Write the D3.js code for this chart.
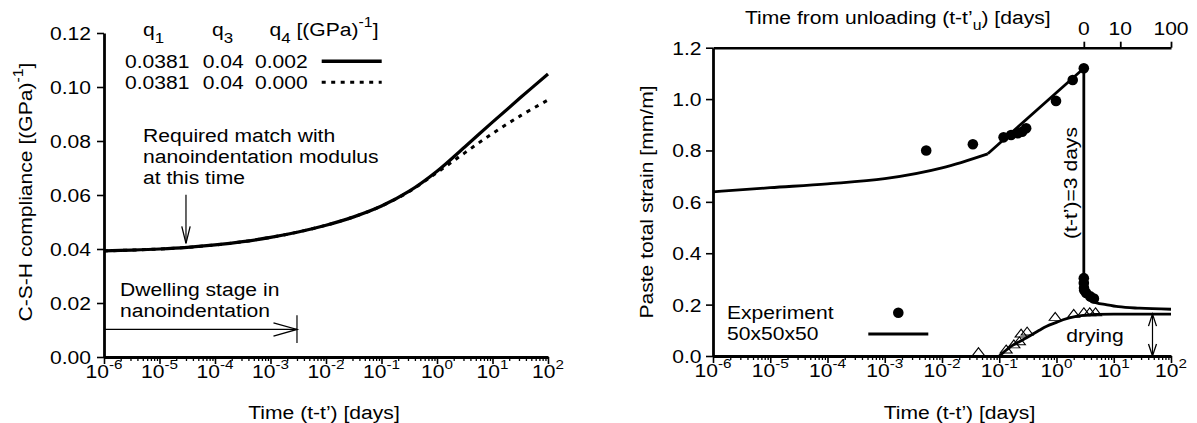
<!DOCTYPE html>
<html><head><meta charset="utf-8">
<script src="https://cdn.jsdelivr.net/npm/d3@7"></script>
<style>
html,body{margin:0;padding:0;background:#fff;}
svg{display:block;font-family:"Liberation Sans",Arial,Helvetica,sans-serif;}
</style></head><body>
<svg id="c" width="1197" height="423"></svg>
<script>
// ---------- data ----------
const decadeExps = [-6, -5, -4, -3, -2, -1, 0, 1, 2];
const complianceTicks = [0, 0.02, 0.04, 0.06, 0.08, 0.10, 0.12];
const strainTicks = [0, 0.2, 0.4, 0.6, 0.8, 1.0, 1.2];
const unloadTicks = [0, 10, 100];
const unloadAge = 3; // (t-t') at unloading, days

// C-S-H compliance vs load duration, every half decade from 1e-6 to 1e2 days
const complianceTime = [1e-6, 3.16e-6, 1e-5, 3.16e-5, 1e-4, 3.16e-4, 1e-3, 3.16e-3, 1e-2, 3.16e-2,
                        0.1, 0.316, 1, 3.16, 10, 31.6, 100];
const complianceQ4 = [0.0393, 0.0396, 0.0400, 0.0406, 0.0415, 0.0427, 0.0443, 0.0463, 0.0488, 0.0519,
                      0.0559, 0.0614, 0.0688, 0.0778, 0.0870, 0.0960, 0.1048];
const complianceNoQ4 = [0.0393, 0.0396, 0.0400, 0.0406, 0.0415, 0.0427, 0.0443, 0.0463, 0.0488, 0.0519,
                        0.0559, 0.0613, 0.0683, 0.0756, 0.0828, 0.0893, 0.0952];
const legendRows = [
  {q1: "0.0381", q3: "0.04", q4: "0.002", dash: null},
  {q1: "0.0381", q3: "0.04", q4: "0.000", dash: "4,5.5"}
];
const matchTime = 3e-5;      // nanoindentation match time, days
const dwellEnd = 3e-3;       // end of dwelling stage, days

// paste strain: model, loading phase
const creepTime = [1e-6, 1e-5, 1e-4, 1e-3, 1e-2, 0.063];
const creepStrain = [0.639, 0.655, 0.670, 0.690, 0.732, 0.787];
const loadTime = [0.063, 3];
const loadStrain = [0.787, 1.12];
// model after unloading
const recoveryTime = [3, 3.02, 3.1, 3.3, 3.75, 5, 7.3, 12, 28, 100];
const recoveryStrain = [0.30, 0.27, 0.25, 0.235, 0.218, 0.207, 0.200, 0.192, 0.186, 0.182];
// model, drying strain
const dryTime = [0.1, 0.12, 0.15, 0.2, 0.3, 0.5, 0.66, 1, 1.3, 2.2, 3, 5, 10, 100];
const dryStrain = [0.0, 0.015, 0.033, 0.050, 0.071, 0.100, 0.115, 0.131, 0.141, 0.154, 0.158, 0.162, 0.163, 0.163];
// experiment, total strain
const expTime = [0.0053, 0.0346, 0.119, 0.161, 0.211, 0.251, 0.295, 0.98, 1.92, 3.0,
                 3.0, 3.0, 3.02, 3.05, 3.3, 3.9, 4.5];
const expStrain = [0.80, 0.824, 0.851, 0.860, 0.867, 0.873, 0.886, 0.993, 1.074, 1.12,
                   0.303, 0.284, 0.265, 0.256, 0.245, 0.232, 0.224];
// experiment, drying strain
const dryExpTime = [0.0434, 0.132, 0.18, 0.225, 0.241, 0.307, 0.95, 2.0, 3.0, 3.8, 4.8];
const dryExpStrain = [0.008, 0.018, 0.038, 0.050, 0.080, 0.088, 0.145, 0.157, 0.163, 0.163, 0.163];
const dryingArrowTime = 47.5;

// ---------- helpers ----------
const FS = 19, SX = 1.11;
const svg = d3.select("#c");

function rich(g, x, y, parts, o = {}) {
  const size = o.size || FS;
  const t = g.append("text")
    .attr("transform", `translate(${x},${y})` + (o.rotate ? ` rotate(${o.rotate})` : "") + ` scale(${SX},1)`)
    .attr("text-anchor", o.anchor || "start")
    .attr("font-size", size)
    .attr("fill", "#000");
  let shift = 0;
  parts.forEach(p => {
    const [s, k, r] = typeof p === "string" ? [p, null, 1] : p;
    const target = k === "sup" ? -0.45 * size : k === "sub" ? 0.36 * size : 0;
    const ts = t.append("tspan").text(s).attr("dy", target - shift);
    if (k) ts.attr("font-size", size * (r || 0.72));
    shift = target;
  });
  return t;
}

function minorValues(lo, hi) {
  const v = [];
  for (let e = lo; e < hi; e++) for (let m = 2; m <= 9; m++) v.push(m * Math.pow(10, e));
  return v;
}
const majors = decadeExps.map(e => Math.pow(10, e));
const minors = minorValues(-6, 2);

function openHead(g, tip, dir, len, half) {
  // dir: unit vector pointing toward tip
  const [dx, dy] = dir, px = -dy, py = dx;
  const bx = tip[0] - dx * len, by = tip[1] - dy * len;
  g.append("path")
    .attr("d", `M${bx + px * half},${by + py * half}L${tip[0]},${tip[1]}L${bx - px * half},${by - py * half}`)
    .attr("fill", "none").attr("stroke", "#000").attr("stroke-width", 1.3);
}

function logXAxis(g, x, y0) {
  const major = g.append("g").attr("transform", `translate(0,${y0})`)
    .call(d3.axisBottom(x).tickValues(majors).tickSize(7).tickSizeOuter(0).tickFormat(""));
  major.select(".domain").attr("stroke-width", 2.8);
  major.selectAll(".tick line").attr("stroke-width", 1.6);
  const minor = g.append("g").attr("transform", `translate(0,${y0})`)
    .call(d3.axisBottom(x).tickValues(minors).tickSize(4).tickSizeOuter(0).tickFormat(""));
  minor.select(".domain").remove();
  minor.selectAll(".tick line").attr("stroke-width", 1.3);
  decadeExps.forEach(e => {
    rich(g, x(Math.pow(10, e)), y0 + 21, ["10", [String(e), "sup", 0.72]], {anchor: "middle"});
  });
}

// ---------- left panel: compliance ----------
const L = svg.append("g");
const xL = d3.scaleLog().domain([1e-6, 1e2]).range([104, 548]);
const yL = d3.scaleLinear().domain([0, 0.12]).range([357, 33]);

const yAxL = L.append("g").attr("transform", `translate(${xL.range()[0]},0)`)
  .call(d3.axisLeft(yL).tickValues(complianceTicks).tickSize(7).tickSizeOuter(0).tickFormat(""));
yAxL.select(".domain").attr("stroke-width", 2.8);
yAxL.selectAll(".tick line").attr("stroke-width", 1.6);
complianceTicks.forEach(v => rich(L, xL.range()[0] - 13, yL(v) + 7, [d3.format(".2f")(v)], {anchor: "end"}));
logXAxis(L, xL, yL(0));

rich(L, 324, 419, ["Time (t-t’) [days]"], {anchor: "middle"});
rich(L, 31.5, 192, ["C-S-H compliance [(GPa)", ["-1", "sup", 0.75], "]"], {anchor: "middle", rotate: -90});

const lineL = (ys) => d3.line().x((d, i) => xL(complianceTime[i])).y((d, i) => yL(ys[i])).curve(d3.curveCatmullRom.alpha(0.5))(ys);
L.append("path").attr("d", lineL(complianceNoQ4))
  .attr("fill", "none").attr("stroke", "#000").attr("stroke-width", 3).attr("stroke-dasharray", "4,5.5");
L.append("path").attr("d", lineL(complianceQ4))
  .attr("fill", "none").attr("stroke", "#000").attr("stroke-width", 3.2);

// legend table
rich(L, 143, 36, ["q", ["1", "sub", 0.8]]);
rich(L, 212, 36, ["q", ["3", "sub", 0.8]]);
rich(L, 269.5, 36, ["q", ["4", "sub", 0.8], ["\u00a0[(GPa)", null, 1], ["-1", "sup", 0.75], ["]", null, 1]]);
legendRows.forEach((r, i) => {
  const by = 68.3 + i * 21;
  rich(L, 125, by, [r.q1]);
  rich(L, 202.7, by, [r.q3]);
  rich(L, 255, by, [r.q4]);
  const ln = L.append("line").attr("x1", 321.7).attr("x2", 381.7).attr("y1", by - 7).attr("y2", by - 7)
    .attr("stroke", "#000").attr("stroke-width", r.dash ? 3 : 3.5);
  if (r.dash) ln.attr("stroke-dasharray", r.dash);
});

// annotations
rich(L, 143, 141.7, ["Required match with"]);
rich(L, 143, 162.7, ["nanoindentation modulus"]);
rich(L, 143, 183.5, ["at this time"]);
const ax = xL(matchTime);
L.append("line").attr("x1", ax).attr("x2", ax).attr("y1", yL(0.0601)).attr("y2", yL(0.0421))
  .attr("stroke", "#000").attr("stroke-width", 1.2);
openHead(L, [ax, yL(0.0421)], [0, 1], 17, 4.2);

rich(L, 120, 295.7, ["Dwelling stage in"]);
rich(L, 120, 316.7, ["nanoindentation"]);
const dx = xL(dwellEnd);
L.append("line").attr("x1", xL(1e-6)).attr("x2", dx).attr("y1", yL(0.0102)).attr("y2", yL(0.0102))
  .attr("stroke", "#000").attr("stroke-width", 1.2);
openHead(L, [dx, yL(0.0102)], [1, 0], 23.5, 6.7);
L.append("line").attr("x1", dx).attr("x2", dx).attr("y1", yL(0.0155)).attr("y2", yL(0.0052))
  .attr("stroke", "#000").attr("stroke-width", 1.2);

// ---------- right panel: paste strain ----------
const R = svg.append("g");
const xR = d3.scaleLog().domain([1e-6, 1e2]).range([713, 1171]);
const yR = d3.scaleLinear().domain([0, 1.2]).range([356, 47.7]);

const yAxR = R.append("g").attr("transform", `translate(${xR.range()[0]},0)`)
  .call(d3.axisLeft(yR).tickValues(strainTicks).tickSize(7).tickSizeOuter(0).tickFormat(""));
yAxR.select(".domain").attr("stroke-width", 2.8);
yAxR.selectAll(".tick line").attr("stroke-width", 1.6);
strainTicks.forEach(v => rich(R, xR.range()[0] - 11.5, yR(v) + 7, [d3.format(".1f")(v)], {anchor: "end"}));
logXAxis(R, xR, yR(0));

// top axis: time from unloading
const xTop = xR.copy().clamp(true);
const topAx = R.append("g").attr("transform", `translate(0,${yR(1.2)})`)
  .call(d3.axisTop(xTop).tickValues(unloadTicks.map(u => u + unloadAge)).tickSize(6).tickSizeOuter(0).tickFormat(""));
topAx.select(".domain").attr("stroke-width", 2.5);
topAx.selectAll(".tick line").attr("stroke-width", 1.8);
unloadTicks.forEach(u => rich(R, xTop(u + unloadAge), 35, [String(u)], {anchor: "middle"}));
rich(R, 745, 23.5, ["Time from unloading (t-t’", ["u", "sub", 0.75], [") [days]", null, 1]]);

rich(R, 959.5, 419, ["Time (t-t’) [days]"], {anchor: "middle"});
rich(R, 653, 202, ["Paste total strain [mm/m]"], {anchor: "middle", rotate: -90});

const lr = (ts, vs, curve) => d3.line().x((d, i) => xR(ts[i])).y((d, i) => yR(vs[i])).curve(curve)(vs);
const mStyle = p => p.attr("fill", "none").attr("stroke", "#000").attr("stroke-width", 2.8).attr("stroke-linejoin", "round");
mStyle(R.append("path").attr("d", lr(creepTime, creepStrain, d3.curveMonotoneX)));
mStyle(R.append("path").attr("d", lr(loadTime, loadStrain, d3.curveLinear)));
mStyle(R.append("path").attr("d", lr([unloadAge, unloadAge], [loadStrain[1], recoveryStrain[0]], d3.curveLinear)));
mStyle(R.append("path").attr("d", lr(recoveryTime, recoveryStrain, d3.curveMonotoneX)));
mStyle(R.append("path").attr("d", lr(dryTime, dryStrain, d3.curveMonotoneX)));

// experiment points
R.append("g").selectAll("circle").data(expStrain).join("circle")
  .attr("cx", (d, i) => xR(expTime[i])).attr("cy", d => yR(d)).attr("r", 5.3).attr("fill", "#000");
const tri = d3.symbol().type(d3.symbolTriangle).size(40);
R.append("g").selectAll("path").data(dryExpStrain).join("path")
  .attr("d", tri)
  .attr("transform", (d, i) => `translate(${xR(dryExpTime[i])},${yR(d) - 1}) scale(1.25,0.95)`)
  .attr("fill", "none").attr("stroke", "#000").attr("stroke-width", 1);

// drying annotation
const dax = xR(dryingArrowTime);
R.append("line").attr("x1", dax).attr("x2", dax).attr("y1", yR(dryStrain[dryStrain.length - 1])).attr("y2", yR(0))
  .attr("stroke", "#000").attr("stroke-width", 1.2);
openHead(R, [dax, yR(dryStrain[dryStrain.length - 1])], [0, -1], 12, 4);
openHead(R, [dax, yR(0)], [0, 1], 12, 4);
rich(R, 1095, 341.5, ["drying"], {anchor: "middle"});

rich(R, 1076.5, 183, ["(t-t’)=3 days"], {anchor: "middle", rotate: -90});

// legend
rich(R, 727, 319.3, ["Experiment"]);
rich(R, 727, 340, ["50x50x50"]);
R.append("circle").attr("cx", 898.3).attr("cy", 312.7).attr("r", 5.3).attr("fill", "#000");
R.append("line").attr("x1", 868.3).attr("x2", 928.3).attr("y1", 334).attr("y2", 334)
  .attr("stroke", "#000").attr("stroke-width", 2.8);
</script>
</body></html>
